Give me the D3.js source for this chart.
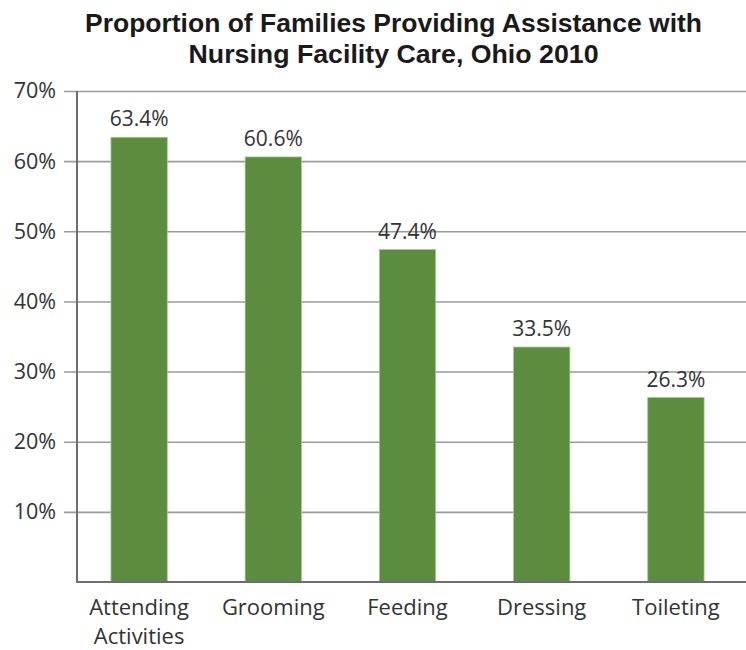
<!DOCTYPE html>
<html>
<head>
<meta charset="utf-8">
<script src="https://cdn.jsdelivr.net/npm/d3@7"></script>
<style>
  html, body { margin: 0; padding: 0; background: #fff; }
  svg { display: block; }
</style>
</head>
<body>
<svg id="chart" width="746" height="650"></svg>
<script>
// Chart data
const categories = ["Attending Activities", "Grooming", "Feeding", "Dressing", "Toileting"];
const values = [63.4, 60.6, 47.4, 33.5, 26.3];
const tickValues = [10, 20, 30, 40, 50, 60, 70];
const titleLines = ["Proportion of Families Providing Assistance with", "Nursing Facility Care, Ohio 2010"];

const W = 746, H = 650;
const svg = d3.select("#chart");
const labelFont = "'Open Sans', 'DejaVu Sans', sans-serif";

const x = d3.scaleBand().domain(categories).range([72, 743]).paddingInner(0.58).paddingOuter(0.29);
const y = d3.scaleLinear().domain([0, 70]).range([582, 91]);

// Title (condensed bold face)
const titleWidths = [617, 410];
svg.append("g").selectAll("text").data(titleLines).join("text")
  .attr("x", 393.5)
  .attr("y", (d, i) => 32 + i * 31)
  .attr("text-anchor", "middle")
  .attr("font-family", "'Liberation Sans', Arial, sans-serif")
  .attr("font-weight", "bold")
  .attr("font-size", 26.5)
  .attr("textLength", (d, i) => titleWidths[i])
  .attr("lengthAdjust", "spacingAndGlyphs")
  .attr("fill", "#1a1a1a")
  .text(d => d);

// Horizontal gridlines and y-axis labels
const yAxis = d3.axisLeft(y).tickValues(tickValues).tickFormat(d => d + "%").tickSize(-(W - 64)).tickPadding(8);
const gy = svg.append("g").attr("transform", "translate(64,0)").call(yAxis);
gy.select(".domain").remove();
gy.selectAll(".tick line").attr("stroke", "#9a9a9a").attr("stroke-width", 1.6);
gy.selectAll(".tick text")
  .attr("font-family", labelFont)
  .attr("font-size", 21.5)
  .attr("fill", "#333");

// Bars
svg.append("g").selectAll("rect").data(values).join("rect")
  .attr("x", (d, i) => x(categories[i]))
  .attr("y", d => y(d))
  .attr("width", x.bandwidth())
  .attr("height", d => y(0) - y(d))
  .attr("fill", "#5c8d3e")
  .attr("stroke", "#a9c79a")
  .attr("stroke-width", 0.8);

// Value labels
svg.append("g").selectAll("text").data(values).join("text")
  .attr("x", (d, i) => x(categories[i]) + x.bandwidth() / 2)
  .attr("y", d => y(d) - 11)
  .attr("text-anchor", "middle")
  .attr("font-family", labelFont)
  .attr("font-size", 21)
  .attr("fill", "#333")
  .text(d => d.toFixed(1) + "%");

// Axis lines
svg.append("line").attr("x1", 77).attr("x2", 77).attr("y1", 91).attr("y2", y(0))
  .attr("stroke", "#6e6e6e").attr("stroke-width", 2);
svg.append("line").attr("x1", 76).attr("x2", W).attr("y1", y(0)).attr("y2", y(0))
  .attr("stroke", "#6e6e6e").attr("stroke-width", 2);

// Category labels (two-word labels wrap onto two lines)
const xLabelLines = categories.flatMap(c =>
  c.split(" ").map((w, i) => ({ cat: c, word: w, line: i })));
svg.append("g").selectAll("text").data(xLabelLines).join("text")
  .attr("x", d => x(d.cat) + x.bandwidth() / 2)
  .attr("y", d => 615 + d.line * 29)
  .attr("text-anchor", "middle")
  .attr("font-family", labelFont)
  .attr("font-size", 22)
  .attr("fill", "#333")
  .text(d => d.word);
</script>
</body>
</html>
